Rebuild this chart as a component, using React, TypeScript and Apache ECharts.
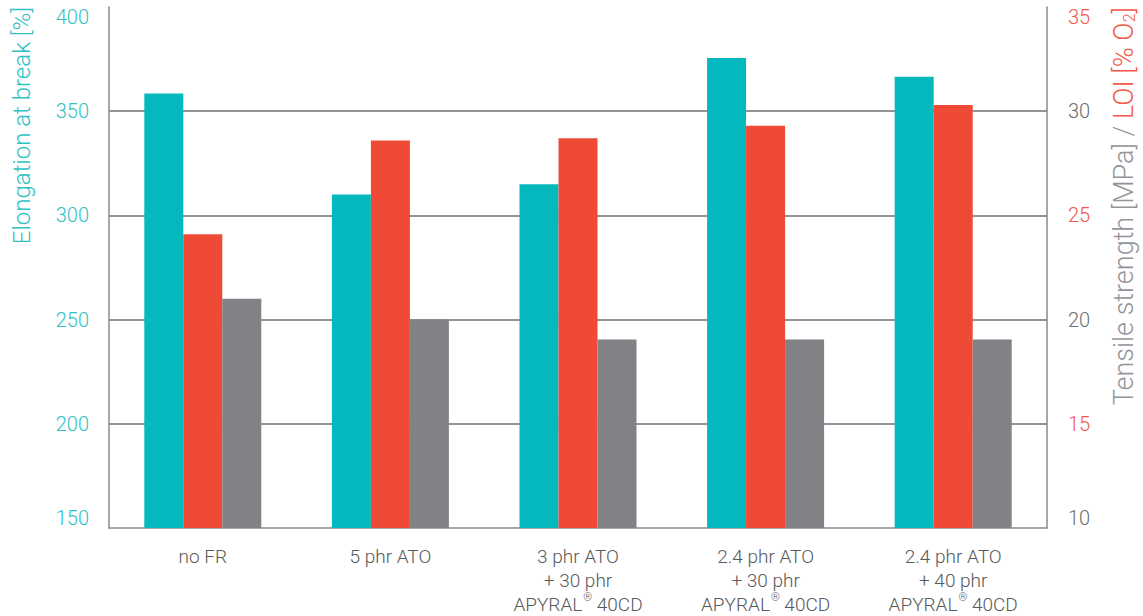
import React, { useEffect, useRef } from "react";
import * as echarts from "echarts";

const categories = [
  "no FR",
  "5 phr ATO",
  "3 phr ATO\n+ 30 phr\n{a|APYRAL}{r|®}{a| 40CD}",
  "2.4 phr ATO\n+ 30 phr\n{a|APYRAL}{r|®}{a| 40CD}",
  "2.4 phr ATO\n+ 40 phr\n{a|APYRAL}{r|®}{a| 40CD}",
];
const elongation = [358.5, 310, 315, 375.5, 366.5];
const loi = [24.1, 28.6, 28.7, 29.3, 30.3];
const tensile = [21, 20, 19.05, 19.05, 19.05];

const leftTicks = { min: 150, max: 400, interval: 50 };
const rightTicks = { min: 10, max: 35, interval: 5 };

const leftTitle = "Elongation at break [%]";
const rightTitleA = "Tensile strength [MPa] / ";
const rightTitleB = "LOI [% O";
const rightTitleSub = "2";

const TEAL = "#03b9bd";
const RED = "#ef4a36";
const GRAY = "#808285";
const TEAL_TEXT = "#2ec2c5";
const RED_TEXT = "#f0594a";
const GRAY_TEXT = "#6d6e71";
const FONT = "Roboto";

export default function App() {
  const ref = useRef<HTMLDivElement>(null);
  useEffect(() => {
    document.body.style.margin = "0";
    const chart = echarts.init(ref.current!, null, { renderer: "svg" });
    chart.setOption({
      animation: false,
      textStyle: { fontFamily: FONT, fontWeight: 300 },
      grid: { left: 109, right: 96, top: 7, bottom: 87, containLabel: false },
      graphic: [
        {
          type: "text",
          x: 22,
          y: 7,
          rotation: Math.PI / 2,
          style: {
            text: leftTitle,
            fill: TEAL_TEXT,
            fontSize: 24,
            fontFamily: FONT,
            fontWeight: 300,
            align: "right",
            verticalAlign: "middle",
          },
        },
        {
          type: "text",
          x: 1124,
          y: 7,
          rotation: Math.PI / 2,
          style: {
            text: `{g|${rightTitleA}}{r|${rightTitleB}}{s|${rightTitleSub}}{r|]}`,
            fontSize: 27,
            fontFamily: FONT,
            fontWeight: 300,
            align: "right",
            verticalAlign: "middle",
            rich: {
              g: { fill: "#939598", fontSize: 27, fontFamily: FONT, fontWeight: 300 },
              r: { fill: RED_TEXT, fontSize: 27, fontFamily: FONT, fontWeight: 300 },
              s: { fill: RED_TEXT, fontSize: 16, fontFamily: FONT, fontWeight: 300, verticalAlign: "bottom", padding: [11, 0, 0, 0] },
            },
          },
        },
      ],
      xAxis: {
        type: "category",
        data: categories,
        axisLine: { show: true, lineStyle: { color: "#8a8a8d", width: 1.5 } },
        axisTick: { show: false },
        axisLabel: {
          interval: 0,
          color: "#58595b",
          fontSize: 19,
          lineHeight: 24,
          margin: 16,
          fontFamily: FONT,
          fontWeight: 300,
          rich: {
            a: { fontSize: 19, color: "#58595b", fontFamily: FONT, fontWeight: 300, lineHeight: 24 },
            r: { fontSize: 11, color: "#58595b", fontFamily: FONT, fontWeight: 300, verticalAlign: "top", lineHeight: 24, padding: [0, 0, 6, 1] },
          },
        },
      },
      yAxis: [
        {
          type: "value",
          position: "left",
          min: leftTicks.min,
          max: leftTicks.max,
          interval: leftTicks.interval,
          axisLine: { show: true, lineStyle: { color: "#8a8a8d", width: 1.5 } },
          axisTick: { show: false },
          axisLabel: {
            color: TEAL_TEXT,
            fontSize: 20,
            margin: 20,
            fontFamily: FONT,
            fontWeight: 300,
            verticalAlignMaxLabel: "top",
            verticalAlignMinLabel: "bottom",
          },
          splitLine: {
            show: true,
            showMinLine: false,
            showMaxLine: false,
            lineStyle: { color: "#6f7073", width: 1.5 },
          },
        },
        {
          type: "value",
          position: "right",
          min: rightTicks.min,
          max: rightTicks.max,
          interval: rightTicks.interval,
          axisLine: { show: true, lineStyle: { color: "#8a8a8d", width: 1.5 } },
          axisTick: { show: false },
          axisLabel: {
            fontSize: 20,
            margin: 21,
            fontFamily: FONT,
            fontWeight: 300,
            verticalAlignMaxLabel: "top",
            verticalAlignMinLabel: "bottom",
            color: (v: any) => (Number(v) % 10 === 5 ? RED_TEXT : GRAY_TEXT),
          },
          splitLine: { show: false },
        },
      ],
      series: [
        { type: "bar", name: "Elongation at break", yAxisIndex: 0, data: elongation, barWidth: 39, barGap: "0%", itemStyle: { color: TEAL } },
        { type: "bar", name: "LOI", yAxisIndex: 1, data: loi, barWidth: 39, barGap: "0%", itemStyle: { color: RED } },
        { type: "bar", name: "Tensile strength", yAxisIndex: 1, data: tensile, barWidth: 39, barGap: "0%", itemStyle: { color: GRAY } },
      ],
    });
    return () => chart.dispose();
  }, []);
  return <div ref={ref} style={{ position: "absolute", left: 0, top: 0, width: 1143, height: 616 }} />;
}
